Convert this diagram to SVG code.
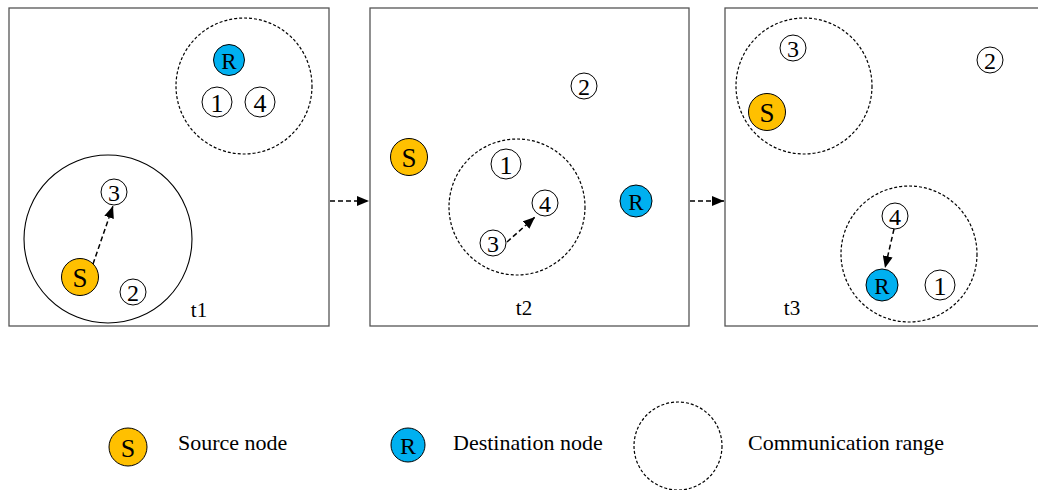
<svg xmlns="http://www.w3.org/2000/svg" width="1038" height="490" viewBox="0 0 1038 490">
<style>
.panel{fill:#fff;stroke:#555;stroke-width:1.3}
.range{fill:none;stroke:#000;stroke-width:1.2;stroke-dasharray:3 2}
.solid{fill:none;stroke:#000;stroke-width:1.1}
.num{fill:#fff;stroke:#000;stroke-width:1}
.src{fill:#FFC000;stroke:#000;stroke-width:1}
.dst{fill:#00B0F0;stroke:#000;stroke-width:1}
text{font-family:"Liberation Serif","Times New Roman",serif;fill:#000}
.lbl{text-anchor:middle;dominant-baseline:central}
.d{font-size:24px}
.dl{font-size:26px}
.s{font-size:27px}
.r{font-size:23px}
.ls{font-size:26px}
.lr{font-size:24px}
.t{font-size:21px;text-anchor:middle}
.leg{font-size:22px}
.conn{fill:none;stroke:#000;stroke-width:1.5;stroke-dasharray:5 3}
</style>
<defs>
<marker id="ah" viewBox="0 0 12 10" refX="12" refY="5" markerWidth="12" markerHeight="10" markerUnits="userSpaceOnUse" orient="auto">
<path d="M0,0 L12,5 L0,10 z" fill="#000"/>
</marker>
</defs>
<rect width="1038" height="490" fill="#fff"/>

<g id="panel-t1">
<rect class="panel" x="9" y="8" width="320" height="318"/>
<circle class="range" cx="244" cy="86" r="68"/>
<circle class="solid" cx="108" cy="239" r="84"/>
<text class="t" x="199" y="317">t1</text>
</g>
<g id="t1-R"><circle class="dst" cx="229" cy="60" r="15.5"/><text class="lbl r" x="229" y="61">R</text></g>
<g id="t1-n1"><circle class="num" cx="217" cy="102" r="15"/><text class="lbl dl" x="217" y="103">1</text></g>
<g id="t1-n4"><circle class="num" cx="260" cy="102" r="15"/><text class="lbl dl" x="260" y="103">4</text></g>
<g id="t1-n3"><circle class="num" cx="114" cy="192" r="13"/><text class="lbl d" x="114" y="193">3</text></g>
<g id="t1-S"><circle class="src" cx="80" cy="277" r="18.5"/><text class="lbl s" x="80" y="278">S</text></g>
<g id="t1-n2"><circle class="num" cx="133" cy="292" r="13"/><text class="lbl d" x="133" y="293">2</text></g>

<g id="panel-t2">
<rect class="panel" x="370" y="8" width="319" height="318"/>
<circle class="range" cx="517" cy="207" r="68"/>
<text class="t" x="524" y="315">t2</text>
</g>
<g id="t2-n2"><circle class="num" cx="584" cy="86" r="13"/><text class="lbl d" x="584" y="87">2</text></g>
<g id="t2-S"><circle class="src" cx="409" cy="157" r="18.5"/><text class="lbl s" x="409" y="158">S</text></g>
<g id="t2-n1"><circle class="num" cx="506" cy="164" r="15"/><text class="lbl dl" x="506" y="165">1</text></g>
<g id="t2-n4"><circle class="num" cx="545" cy="203" r="13"/><text class="lbl d" x="545" y="204">4</text></g>
<g id="t2-n3"><circle class="num" cx="493" cy="243" r="13"/><text class="lbl d" x="493" y="244">3</text></g>
<g id="t2-R"><circle class="dst" cx="636" cy="201" r="16"/><text class="lbl r" x="636" y="202">R</text></g>

<g id="panel-t3">
<rect class="panel" x="725" y="8" width="330" height="318"/>
<circle class="range" cx="804" cy="86" r="68"/>
<circle class="range" cx="909" cy="254" r="68"/>
<text class="t" x="792" y="315">t3</text>
</g>
<g id="t3-n3"><circle class="num" cx="793" cy="48" r="13"/><text class="lbl d" x="793" y="49">3</text></g>
<g id="t3-S"><circle class="src" cx="767" cy="112" r="18.5"/><text class="lbl s" x="767" y="113">S</text></g>
<g id="t3-n2"><circle class="num" cx="990" cy="60" r="13"/><text class="lbl d" x="990" y="61">2</text></g>
<g id="t3-n4"><circle class="num" cx="895" cy="216" r="13"/><text class="lbl d" x="895" y="217">4</text></g>
<g id="t3-R"><circle class="dst" cx="882" cy="285" r="16"/><text class="lbl r" x="882" y="286">R</text></g>
<g id="t3-n1"><circle class="num" cx="940" cy="285" r="15"/><text class="lbl dl" x="940" y="286">1</text></g>

<g id="connectors">
<line class="conn" x1="93" y1="264" x2="113" y2="206" marker-end="url(#ah)"/>
<line class="conn" x1="507" y1="242" x2="535" y2="217" marker-end="url(#ah)"/>
<line class="conn" x1="894" y1="229" x2="885" y2="268" marker-end="url(#ah)"/>
<line class="conn" x1="330" y1="201" x2="369" y2="201" marker-end="url(#ah)"/>
<line class="conn" x1="690" y1="201" x2="724" y2="201" marker-end="url(#ah)"/>
</g>

<g id="legend">
<g id="legend-source"><circle class="src" cx="128" cy="447" r="19"/><text class="lbl ls" x="128" y="448">S</text><text class="leg" x="178" y="450">Source node</text></g>
<g id="legend-destination"><circle class="dst" cx="408" cy="445" r="17"/><text class="lbl lr" x="408" y="446">R</text><text class="leg" x="453" y="450">Destination node</text></g>
<g id="legend-range"><circle class="range" cx="678" cy="446" r="44"/><text class="leg" x="748" y="450">Communication range</text></g>
</g>
</svg>
